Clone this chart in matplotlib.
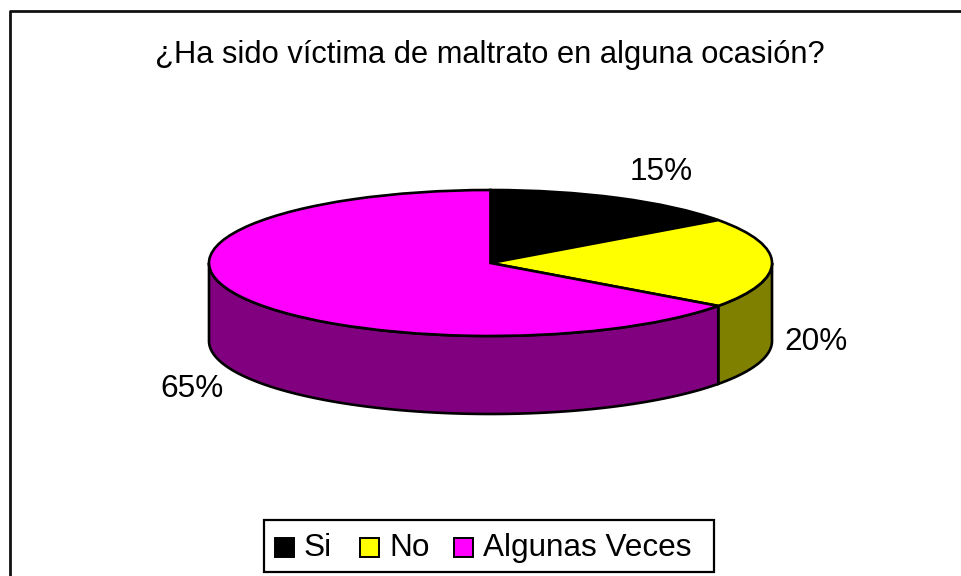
import matplotlib
matplotlib.use('Agg')
import matplotlib.pyplot as plt
import numpy as np
from matplotlib.patches import Rectangle

plt.rcParams['font.family'] = ['Liberation Sans', 'DejaVu Sans']

title = '¿Ha sido víctima de maltrato en alguna ocasión?'
labels = ['Si', 'No', 'Algunas Veces']
values = [15, 20, 65]
pct_labels = ['15%', '20%', '65%']
top_colors = ['#000000', '#FFFF00', '#FF00FF']
side_colors = ['#000000', '#808000', '#800080']

W, H = 961, 576
cx, cy, rx, ry, depth = 490.5, 263, 281.5, 73, 78

fig = plt.figure(figsize=(W / 100, H / 100), dpi=100, facecolor='white')
ax = fig.add_axes([0, 0, 1, 1])

# top face, pie squashed by the axes limits (1 unit = rx px across, ry px down)
ax.pie(values, colors=top_colors, startangle=90, counterclock=False, radius=1,
       wedgeprops={'edgecolor': 'black', 'linewidth': 1.9, 'zorder': 3})
ax.set_aspect('auto')
ax.set_xlim((0 - cx) / rx, (W - cx) / rx)
ax.set_ylim((cy - H) / ry, cy / ry)
ax.axis('off')

# side wall, only the front half of the ellipse is visible
d = depth / ry
edges = np.cumsum([0] + values) / sum(values) * 2 * np.pi
for i in range(len(values)):
    lo, hi = max(edges[i], np.pi / 2), min(edges[i + 1], 3 * np.pi / 2)
    if hi <= lo:
        continue
    t = np.linspace(lo, hi, 120)
    xs = np.sin(t)
    ys = np.cos(t)
    ax.fill(np.r_[xs, xs[::-1]], np.r_[ys, ys[::-1] - d], facecolor=side_colors[i],
            edgecolor='black', linewidth=1.9, zorder=2)


def px(x, y):
    return (x - cx) / rx, (cy - y) / ry


# outer frame runs off the right and bottom of the image
ax.plot(*zip(px(10, H + 5), px(10, 11), px(W + 5, 11)), color='#111111', lw=2, zorder=5)

ax.text(*px(490, 55), title, fontsize=22.2, ha='center', va='center', color='black')

pct_pos = [(661, 172), (816, 342), (192, 389)]
for s, (x, y) in zip(pct_labels, pct_pos):
    ax.text(*px(x, y), s, fontsize=22.7, ha='center', va='center', color='black')

# legend
x0, y0 = px(264, 572)
x1, y1 = px(714, 520)
ax.add_patch(Rectangle((x0, y0), x1 - x0, y1 - y0, facecolor='white', edgecolor='black',
                       linewidth=1.6, zorder=4))
swatch_x = [275, 360, 454]
text_x = [304, 389, 483]
for c, s, sx, tx in zip(top_colors, labels, swatch_x, text_x):
    a, b = px(sx, 557)
    a2, b2 = px(sx + 19, 538)
    ax.add_patch(Rectangle((a, b), a2 - a, b2 - b, facecolor=c, edgecolor='black',
                           linewidth=1.4, zorder=5))
    ax.text(*px(tx, 548), s, fontsize=22.7, ha='left', va='center', color='black', zorder=5)

fig.savefig('out.png', dpi=100)
